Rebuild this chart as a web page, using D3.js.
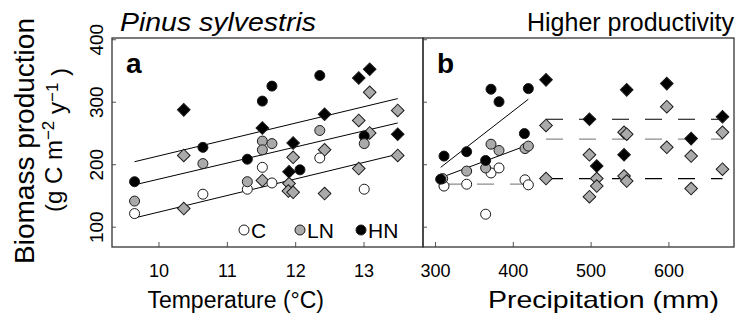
<!DOCTYPE html>
<html>
<head>
<meta charset="utf-8">
<script src="https://cdn.jsdelivr.net/npm/d3@7"></script>
<style>
body { margin: 0; background: #fff; }
text { font-family: "Liberation Sans", Arial, sans-serif; fill: #000; }
</style>
</head>
<body>
<svg id="chart" width="736" height="329"></svg>
<script>
// panel a: temperature (°C) vs biomass production (g C m-2 y-1)
const tempC   = [[9.65,121],[10.65,152],[11.30,160],[11.52,195],[11.66,170],[12.36,210],[13.01,160]]
const tempLN  = [[9.65,141],[10.65,201],[11.30,172],[11.52,237],[11.52,223],[11.66,233],[12.36,254],[13.01,233]]
const tempHN  = [[9.65,172],[10.65,227],[11.30,208],[11.52,301],[11.66,325],[12.07,191],[12.36,342],[13.01,245]]
const tempDiaLN = [[10.37,214],[10.37,129],[11.52,174],[11.97,211],[11.91,169],[11.90,157],[11.97,155],
                   [12.43,223],[12.43,153],[12.93,270],[12.93,193],[13.09,315],[13.09,250],[13.50,286],[13.50,214]]
const tempDiaHN = [[10.37,287],[11.52,258],[11.97,234],[11.91,188],[12.43,280],[12.93,338],[13.09,352],[13.50,248]]
const tempFits  = [[9.65,114,13.5,216],[9.65,167,13.5,266],[9.65,204,13.5,305]]

// panel b: precipitation (mm) vs biomass production
const precC   = [[311.6,165],[340.7,168],[365.1,120],[372,186],[382.3,194],[415.7,175],[420,167]]
const precLN  = [[309.9,177],[340.7,189],[365.1,194],[372,232],[382.3,222],[415.7,225],[420,229]]
const precHN  = [[307.3,176],[311.6,213],[340.7,220],[365.1,206],[372,320],[382.3,300],[414.9,249],[420,321]]
const precDiaLN = [[442.7,262],[442.7,177],[498.5,215],[498.5,148],[507.9,177],[507.9,165],[543,251],[546.4,248],
                   [543,181],[546.4,173],[597.9,292],[597.9,227],[629.2,213],[629.2,161],[669.5,251],[669.5,192]]
const precDiaHN = [[442.7,335],[498.5,272],[507.9,197],[546.4,319],[543,215],[597.9,329],[629.2,241],[669.5,276]]
const precFits  = [[307.3,195,420,304],[315,182,420,231]]
const precMeans = [[311.6,420,168,"#8c8c8c"],[442.7,669.5,272,"#000"],[442.7,669.5,240,"#8c8c8c"],[442.7,669.5,177,"#000"]]

const yTicks = [100, 200, 300, 400]
const tempTicks = [10, 11, 12, 13]
const precTicks = [300, 400, 500, 600]
const legendItems = [["C", "#fff"], ["LN", "#aaaaaa"], ["HN", "#000"]]

const svg = d3.select("#chart")
const grey = "#aaaaaa"

const y  = d3.scaleLinear().domain([67.5, 402]).range([247, 38])
const xA = d3.scaleLinear().domain([9.32, 13.87]).range([112, 423])
const xB = d3.scaleLinear().domain([284.6, 684.3]).range([423, 734])

const circle  = d3.symbol().type(d3.symbolCircle).size(Math.PI * 25)
const diamond = d3.symbol().type(d3.symbolSquare).size(80)

function axes(x, ticks, showY){
    svg.append("g")
        .attr("transform", "translate(0,247)")
        .call(d3.axisBottom(x).tickValues(ticks).tickFormat(d3.format("d"))
            .tickSizeInner(-5).tickSizeOuter(0).tickPadding(17))
        .call(g => g.select(".domain").remove())
        .call(g => g.selectAll("line").attr("stroke", "#555"))
        .call(g => g.selectAll("text").style("font-size", "18px").attr("font-family", null))

    const ya = svg.append("g")
        .attr("transform", `translate(${x.range()[0]},0)`)
        .call(d3.axisLeft(y).tickValues(yTicks).tickSizeInner(-4).tickSizeOuter(0))
        .call(g => g.select(".domain").remove())
        .call(g => g.selectAll("line").attr("stroke", "#555"))
    ya.selectAll("text")
        .attr("x", null).attr("dy", null)
        .attr("font-family", null)
        .attr("text-anchor", "middle")
        .attr("transform", "translate(-9,0) rotate(-90)")
        .style("font-size", "19px")
    if(!showY) ya.selectAll("text").remove()

    svg.append("rect")
        .attr("x", x.range()[0]).attr("y", 38)
        .attr("width", x.range()[1] - x.range()[0]).attr("height", 209)
        .attr("fill", "none").attr("stroke", "#333").attr("stroke-width", 1.3)
}

function fits(x, data){
    svg.append("g").selectAll("line").data(data).join("line")
        .attr("x1", d => x(d[0])).attr("y1", d => y(d[1]))
        .attr("x2", d => x(d[2])).attr("y2", d => y(d[3]))
        .attr("stroke", "#000").attr("stroke-width", 1)
}

function points(x, data, shape, fill){
    svg.append("g").selectAll("path").data(data).join("path")
        .attr("d", shape === "diamond" ? diamond : circle)
        .attr("transform", d => `translate(${x(d[0])},${y(d[1])})` + (shape === "diamond" ? " rotate(45)" : ""))
        .attr("fill", fill)
        .attr("stroke", "#1a1a1a")
        .attr("stroke-width", 1)
}

// panel a
fits(xA, tempFits)
points(xA, tempDiaLN, "diamond", grey)
points(xA, tempDiaHN, "diamond", "#000")
points(xA, tempC, "circle", "#fff")
points(xA, tempHN, "circle", "#000")
points(xA, tempLN, "circle", grey)
axes(xA, tempTicks, true)

// panel b
fits(xB, precFits)
svg.append("g").selectAll("line").data(precMeans).join("line")
    .attr("x1", d => xB(d[0])).attr("x2", d => xB(d[1]))
    .attr("y1", d => y(d[2])).attr("y2", d => y(d[2]))
    .attr("stroke", d => d[3]).attr("stroke-width", 1.2)
    .attr("stroke-dasharray", "17,16")
points(xB, precDiaLN, "diamond", grey)
points(xB, precDiaHN, "diamond", "#000")
points(xB, precC, "circle", "#fff")
points(xB, precLN, "circle", grey)
points(xB, precHN, "circle", "#000")
axes(xB, precTicks, false)

// legend
const lg = svg.append("g").selectAll("g").data(legendItems).join("g")
    .attr("transform", (d, i) => `translate(${[244, 300, 361][i]},230)`)
lg.append("path").attr("d", circle).attr("fill", d => d[1]).attr("stroke", "#1a1a1a")
lg.append("text").attr("x", 7).attr("y", 7.5).style("font-size", "21px").text(d => d[0])

// panel letters and titles
svg.append("text").attr("x", 126).attr("y", 73).style("font-size", "28px").style("font-weight", "bold").text("a")
svg.append("text").attr("x", 437).attr("y", 73).style("font-size", "28px").style("font-weight", "bold").text("b")
svg.append("text").attr("x", 120).attr("y", 31).style("font-size", "26px").style("font-style", "italic")
    .attr("textLength", 196).attr("lengthAdjust", "spacingAndGlyphs").text("Pinus sylvestris")
svg.append("text").attr("x", 734).attr("y", 31).attr("text-anchor", "end").style("font-size", "25px").text("Higher productivity")

// axis titles
svg.append("text").attr("x", xA(11.13)).attr("y", 308).attr("text-anchor", "middle").style("font-size", "23px").text("Temperature (°C)")
svg.append("text").attr("x", 488).attr("y", 308).style("font-size", "24px")
    .attr("textLength", 231).attr("lengthAdjust", "spacingAndGlyphs").text("Precipitation (mm)")
svg.append("text").attr("transform", "translate(34,141) rotate(-90)").attr("text-anchor", "middle")
    .style("font-size", "28px").text("Biomass production")
const unit = svg.append("text").attr("transform", "translate(62,140) rotate(-90)").attr("text-anchor", "middle")
    .style("font-size", "24px")
unit.append("tspan").text("(g C m")
unit.append("tspan").attr("dy", "-0.45em").style("font-size", "17px").text("\u22122")
unit.append("tspan").attr("dy", "0.45em").text(" y")
unit.append("tspan").attr("dy", "-0.45em").style("font-size", "17px").text("\u22121")
unit.append("tspan").attr("dy", "0.45em").text(" )")
</script>
</body>
</html>
